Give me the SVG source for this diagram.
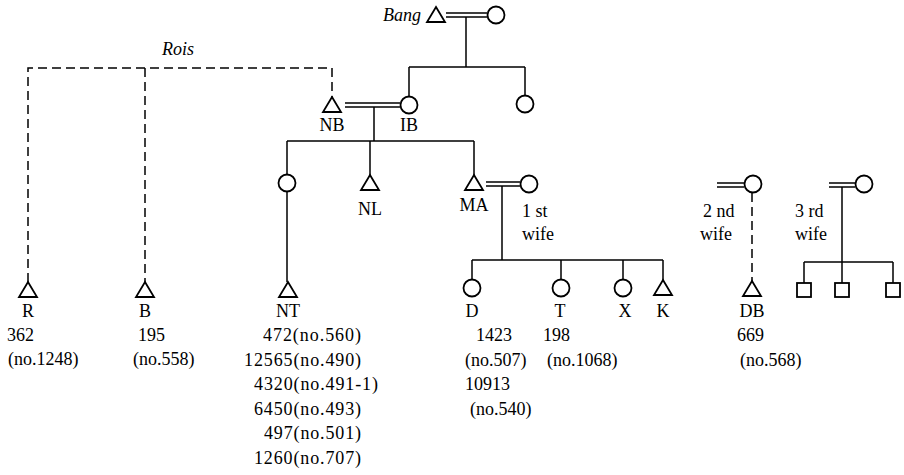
<svg xmlns="http://www.w3.org/2000/svg" width="904" height="475" viewBox="0 0 904 475">
<style>
.ln{stroke:#000;stroke-width:1.5;fill:none}
.ds{stroke:#000;stroke-width:1.5;fill:none;stroke-dasharray:9 5}
.sym{stroke:#000;stroke-width:1.8;fill:#fff}
text{font-family:"Liberation Serif","Times New Roman",serif;font-size:18px;fill:#000}
.c{text-anchor:middle}
.it{font-style:italic}
</style>
<defs>
<path id="tri" d="M0,0 L9,15 L-9,15 Z"/>
</defs>
<rect width="904" height="475" fill="#fff"/>
<g id="connectors">
<path class="ln" d="M446,13 H487 M446,17 H487"/>
<path class="ln" d="M466,17 V67 M409,67 H525 M409,67 V96 M525,67 V95"/>
<path class="ln" d="M345,103 H400 M345,107 H400"/>
<path class="ln" d="M374,107 V141 M287,141 H474 M287,141 V174 M287,192 V282 M370,141 V175 M474,141 V175"/>
<path class="ln" d="M486,182 H520 M486,186 H520"/>
<path class="ln" d="M502,186 V260 M472,260 H663 M472,260 V279 M561,260 V279 M623,260 V279 M663,260 V280"/>
<path class="ln" d="M717,183 H744 M717,187 H744"/>
<path class="ds" d="M752,193 V281"/>
<path class="ln" d="M829,183 H855 M829,187 H855"/>
<path class="ln" d="M842,187 V262 M804,262 H893 M804,262 V283 M842,262 V283 M893,262 V283"/>
<path class="ds" d="M28,282 V68 H332 V97 M145,68 V282"/>
</g>
<g id="bang">
<text class="it" x="383" y="21">Bang</text>
<use href="#tri" x="436" y="7" class="sym"/>
</g>
<g id="bang-wife"><circle class="sym" cx="496" cy="15" r="8.5"/></g>
<g id="rois"><text class="it" x="162" y="55">Rois</text></g>
<g id="NB"><use href="#tri" x="332" y="97" class="sym"/><text class="c" x="332" y="131">NB</text></g>
<g id="IB"><circle class="sym" cx="409" cy="105" r="8.5"/><text class="c" x="409" y="131">IB</text></g>
<g id="sister"><circle class="sym" cx="525" cy="104" r="8.5"/></g>
<g id="daughter-NB"><circle class="sym" cx="287" cy="183" r="8.5"/></g>
<g id="NL"><use href="#tri" x="370" y="175" class="sym"/><text class="c" x="370" y="215">NL</text></g>
<g id="MA"><use href="#tri" x="474" y="175" class="sym"/><text class="c" x="474" y="211">MA</text></g>
<g id="wife1"><circle class="sym" cx="529" cy="184" r="8.5"/><text x="522" y="217">1 st</text><text x="522" y="240">wife</text></g>
<g id="wife2"><circle class="sym" cx="753" cy="184" r="8.5"/><text x="703" y="217">2 nd</text><text x="700" y="240">wife</text></g>
<g id="wife3"><circle class="sym" cx="864" cy="184" r="8.5"/><text x="795" y="217">3 rd</text><text x="795" y="240">wife</text></g>
<g id="R"><use href="#tri" x="28" y="282" class="sym"/><text class="c" x="28" y="317">R</text><text x="7" y="341">362</text><text x="8" y="365">(no.1248)</text></g>
<g id="B"><use href="#tri" x="145" y="282" class="sym"/><text class="c" x="145" y="317">B</text><text x="138" y="341">195</text><text x="133" y="365">(no.558)</text></g>
<g id="NT"><use href="#tri" x="288" y="282" class="sym"/><text class="c" x="288" y="317">NT</text>
<text x="263" y="341" textLength="98" lengthAdjust="spacing">472(no.560)</text>
<text x="244" y="365.5" textLength="117" lengthAdjust="spacing">12565(no.490)</text>
<text x="254" y="390" textLength="124" lengthAdjust="spacing">4320(no.491-1)</text>
<text x="254" y="414.5" textLength="107" lengthAdjust="spacing">6450(no.493)</text>
<text x="264" y="439" textLength="97" lengthAdjust="spacing">497(no.501)</text>
<text x="254" y="463.5" textLength="107" lengthAdjust="spacing">1260(no.707)</text></g>
<g id="D"><circle class="sym" cx="472" cy="288" r="8.5"/><text class="c" x="472" y="317">D</text>
<text x="476" y="341">1423</text><text x="465" y="365.5">(no.507)</text><text x="465" y="390">10913</text><text x="470" y="414.5">(no.540)</text></g>
<g id="T"><circle class="sym" cx="561" cy="288" r="8.5"/><text class="c" x="560" y="317">T</text><text x="543" y="341">198</text><text x="547" y="365.5">(no.1068)</text></g>
<g id="X"><circle class="sym" cx="623" cy="288" r="8.5"/><text class="c" x="625" y="317">X</text></g>
<g id="K"><use href="#tri" x="663" y="280" class="sym"/><text class="c" x="663" y="317">K</text></g>
<g id="DB"><use href="#tri" x="752" y="281" class="sym"/><text class="c" x="752" y="317">DB</text><text x="737" y="341">669</text><text x="740" y="365.5">(no.568)</text></g>
<g id="child1"><rect class="sym" x="797" y="283" width="14" height="14"/></g>
<g id="child2"><rect class="sym" x="835" y="283" width="14" height="14"/></g>
<g id="child3"><rect class="sym" x="886" y="283" width="14" height="14"/></g>
</svg>
